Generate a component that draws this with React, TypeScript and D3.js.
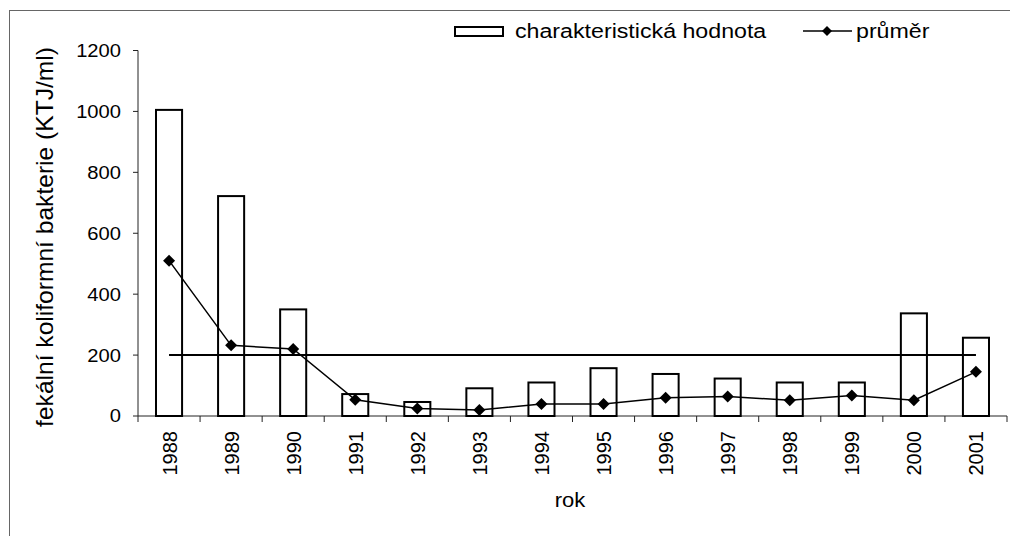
import React from "react";
import * as d3 from "d3";

const years = ["1988","1989","1990","1991","1992","1993","1994","1995","1996","1997","1998","1999","2000","2001"];
const characteristic = [1005, 722, 350, 72, 46, 91, 110, 157, 138, 123, 110, 110, 337, 257];
const average = [510, 232, 220, 53, 25, 20, 39, 39, 60, 64, 52, 67, 52, 145];
const limitValue = 200;
const yTicks = [0, 200, 400, 600, 800, 1000, 1200];

const W = 1010, H = 536;
const left = 138, right = 1007, top = 50.5, bottom = 416;
const font = "'Liberation Sans', Arial, Helvetica, sans-serif";

export default function App() {
  const x = d3.scaleBand<string>().domain(years).range([left, right]).paddingInner(0).paddingOuter(0);
  const y = d3.scaleLinear().domain([0, 1200]).range([bottom, top]);
  const bw = x.bandwidth();
  const barW = bw * 0.42;
  const cx = (d: string) => (x(d) as number) + bw / 2;
  const line = d3.line<number>().x((_, i) => cx(years[i])).y((v) => y(v));
  const diamond = (px: number, py: number, r = 6) => `M${px},${py - r}L${px + r},${py}L${px},${py + r}L${px - r},${py}Z`;

  return (
    <svg width={W} height={H} style={{ position: "absolute", left: 0, top: 0, background: "#fff" }}>
      <rect x={9.5} y={10.5} width={W + 10} height={H + 10} fill="#fff" stroke="#666" strokeWidth={1} />
      {/* y axis */}
      <line x1={left} x2={left} y1={top} y2={bottom} stroke="#222" strokeWidth={1} />
      {yTicks.map((t) => (
        <g key={t}>
          <line x1={left - 5} x2={left} y1={y(t)} y2={y(t)} stroke="#222" />
          <text transform={`translate(${121},${y(t)}) scale(1.12,1)`} dy="0.36em" textAnchor="end" fontFamily={font} fontSize={18} fill="#000">{t}</text>
        </g>
      ))}
      {/* x axis */}
      <line x1={left} x2={right} y1={bottom} y2={bottom} stroke="#222" strokeWidth={1} />
      {years.map((d) => (
        <line key={"t" + d} x1={x(d) as number} x2={x(d) as number} y1={bottom} y2={bottom + 6} stroke="#222" />
      ))}
      <line x1={right} x2={right} y1={bottom} y2={bottom + 6} stroke="#222" />
      {years.map((d) => (
        <text key={"l" + d} transform={`translate(${cx(d) + 7.5},${431}) rotate(-90)`} textAnchor="end" fontFamily={font} fontSize={20} fill="#000">{d}</text>
      ))}
      {/* bars */}
      {years.map((d, i) => (
        <rect key={"b" + d} x={cx(d) - barW / 2} y={y(characteristic[i])} width={barW} height={bottom - y(characteristic[i])} fill="#fff" stroke="#000" strokeWidth={2} />
      ))}
      {/* limit line */}
      <line x1={cx(years[0])} x2={cx(years[years.length - 1])} y1={y(limitValue)} y2={y(limitValue)} stroke="#000" strokeWidth={2} />
      {/* mean line */}
      <path d={line(average) || ""} fill="none" stroke="#000" strokeWidth={1.5} />
      {average.map((v, i) => (
        <path key={"m" + i} d={diamond(cx(years[i]), y(v))} fill="#000" />
      ))}
      {/* axis titles */}
      <text transform={`translate(${53},${237}) rotate(-90) scale(1.07,1)`} textAnchor="middle" fontFamily={font} fontSize={23} fill="#000">fekální koliformní bakterie (KTJ/ml)</text>
      <text transform={`translate(${570},${507}) scale(1.1,1)`} textAnchor="middle" fontFamily={font} fontSize={20} fill="#000">rok</text>
      {/* legend */}
      <rect x={455} y={27} width={48} height={9} fill="#fff" stroke="#000" strokeWidth={2} />
      <text transform={`translate(${515},${38}) scale(1.16,1)`} fontFamily={font} fontSize={20} fill="#000">charakteristická hodnota</text>
      <line x1={803} x2={852} y1={31} y2={31} stroke="#000" strokeWidth={1.5} />
      <path d={diamond(827, 31, 5)} fill="#000" />
      <text transform={`translate(${856},${38}) scale(1.16,1)`} fontFamily={font} fontSize={20} fill="#000">průměr</text>
    </svg>
  );
}
